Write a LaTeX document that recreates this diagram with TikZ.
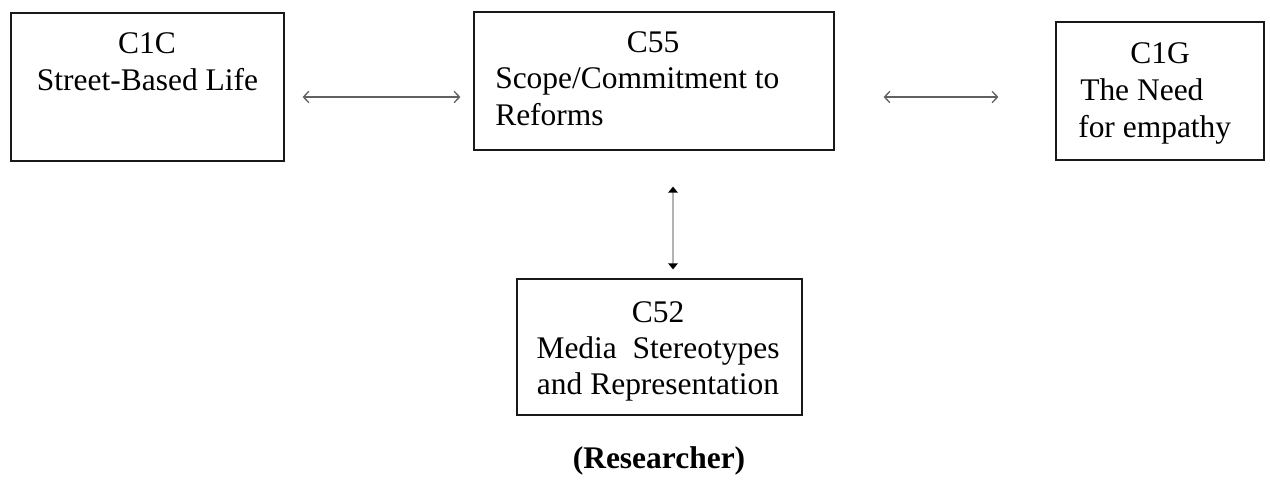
\documentclass[tikz,border=0pt]{standalone}
\usepackage{fontspec}
\setmainfont{Liberation Serif}
\usetikzlibrary{arrows.meta}
\begin{document}
\begin{tikzpicture}[x=0.75pt,y=-0.75pt,
  box/.style={draw=black!90,line width=0.9pt,rectangle,inner sep=0pt},
  txt/.style={inner sep=0pt,font=\fontsize{23.6}{28}\selectfont},
  harrow/.style={draw=black!62,line width=1pt,
    {Straight Barb[length=4pt,width=8.5pt]}-{Straight Barb[length=4pt,width=8.5pt]}},
  varrow/.style={draw=black!30,line width=1.4pt,
    {Triangle[length=4.5pt,width=7pt,color=black]}-{Triangle[length=4.5pt,width=7pt,color=black]}}]
\useasboundingbox (0,0) rectangle (1270,483);

% concept boxes
\node[box,minimum width=273*0.75pt,minimum height=148*0.75pt] (c1c) at (147.5,87) {};
\node[box,minimum width=360*0.75pt,minimum height=138*0.75pt] (c55) at (654,81) {};
\node[box,minimum width=208*0.75pt,minimum height=138*0.75pt] (c1g) at (1160,91) {};
\node[box,minimum width=285*0.75pt,minimum height=136*0.75pt] (c52) at (659.5,347) {};

% box labels
\node[txt,anchor=base] (c1ca) at (147,53) {C1C};
\node[txt,anchor=base] (c1cb) at (147.5,90) {Street-Based Life};

\node[txt,anchor=base] (c55a) at (653,52) {C55};
\node[txt,anchor=base west] (c55b) at (495,88) {Scope/Commitment to};
\node[txt,anchor=base west] (c55c) at (495,125) {Reforms};

\node[txt,anchor=base] (c1ga) at (1160,63) {C1G};
\node[txt,anchor=base west] (c1gb) at (1080,100) {The Need};
\node[txt,anchor=base west] (c1gc) at (1078,137) {for empathy};

\node[txt,anchor=base] (c52a) at (658,322) {C52};
\node[txt,anchor=base] (c52b) at (658,358) {Media\ \ Stereotypes};
\node[txt,anchor=base] (c52c) at (658,394) {and Representation};

\node[txt,anchor=base,font=\fontsize{23.6}{28}\selectfont\bfseries] (res) at (659,468) {(Researcher)};

% links between concepts
\draw[harrow] ([shift={(18,10)}]c1c.east) -- ([shift={(-13,16)}]c55.west);
\draw[harrow] ([shift={(49,16)}]c55.east) -- ([shift={(-57,6)}]c1g.west);
\draw[varrow] ([shift={(19,36)}]c55.south) -- ([shift={(13.5,-9)}]c52.north);
\end{tikzpicture}
\end{document}
